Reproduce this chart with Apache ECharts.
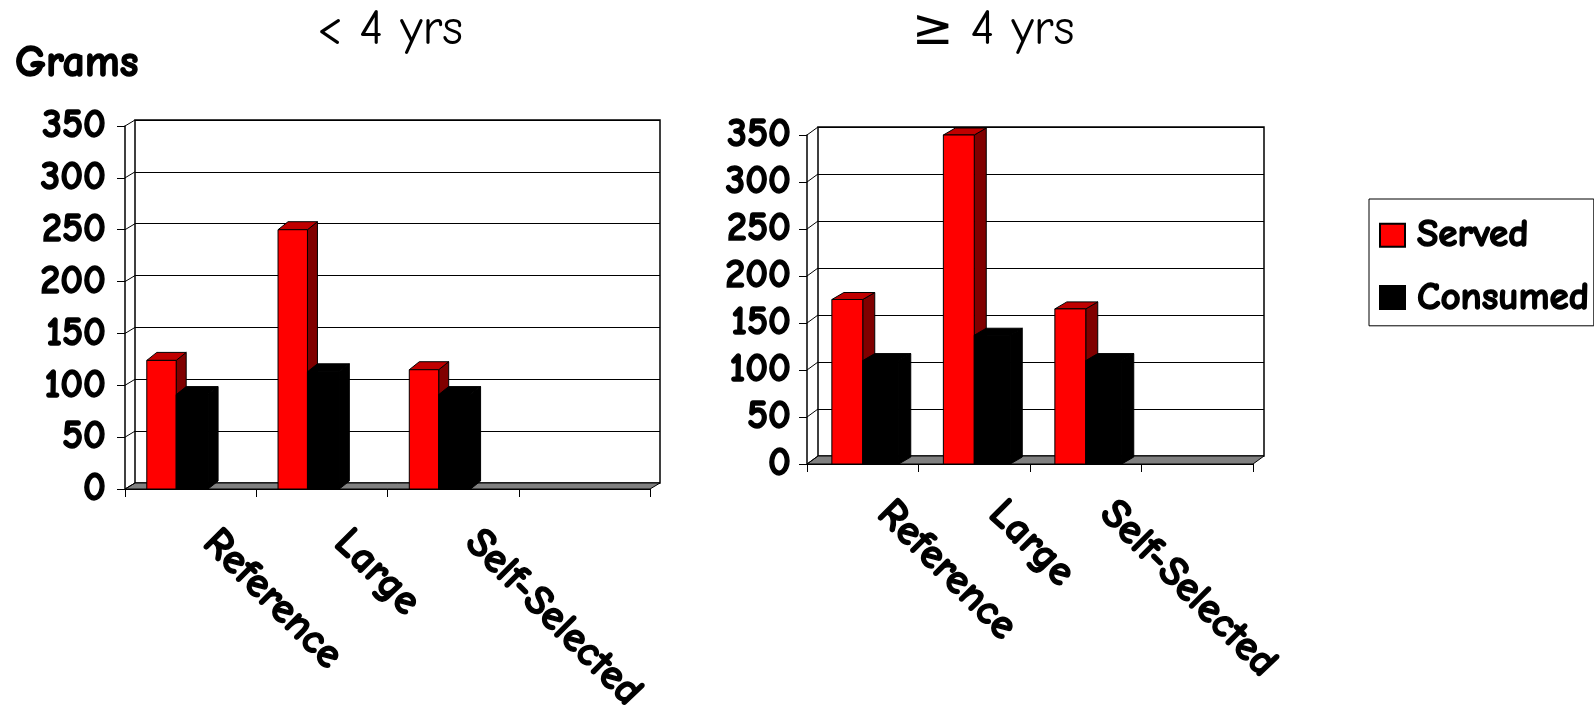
<!DOCTYPE html>
<html><head><meta charset="utf-8">
<script src="https://cdn.jsdelivr.net/npm/echarts@6/dist/echarts.min.js"></script>
<style>html,body{margin:0;padding:0;background:#fff}#c{width:1594px;height:728px}</style>
</head><body><div id="c"></div>
<script>
// ---- data ----
const categories = ['Reference', 'Large', 'Self-Selected', ''];
const yTicks = [0, 50, 100, 150, 200, 250, 300, 350];
const servedUnder4 = [124, 250, 115, null];
const consumedUnder4 = [91, 113, 91, null];
const servedOver4 = [175, 350, 165, null];
const consumedOver4 = [110, 137, 110, null];
const titles = ['< 4 yrs', '\u2265 4 yrs'];
const seriesNames = ['Served', 'Consumed'];

// ---- layout / style ----
const FONT = "'Comic Sans MS','Comic Neue','DejaVu Sans',sans-serif";
const BOLD = {fontFamily: FONT, fontWeight: 'bold', color: '#000', textBorderColor: '#000', textBorderWidth: 1.4};
const P = [
  {left:125, top:126, width:525, height:363, dx:10, dy:6, bdx:10, bdy:8,
   red:[-0.334,-0.11], black:[-0.11,0.133], lblPad:27, lblMargin:28, yMargin:19},
  {left:807, top:135, width:446, height:329, dx:11, dy:8, bdx:12, bdy:7,
   red:[-0.277,0], black:[0,0.323], lblPad:30, lblMargin:22, yMargin:16}
];
const RED = {front:'#ff0000', top:'#c00000', side:'#800000', stroke:'#000'};
const BLK = {front:'#000000', top:'#000000', side:'#000000', stroke:'#000'};

function barRender(cfg, frac, col) {
  return function (params, api) {
    const v = api.value(1);
    if (v == null || isNaN(v)) return;
    const c = api.value(0);
    const t = api.coord([c, v]);
    const b = api.coord([c, 0]);
    const cw = api.size([1, 0])[0];
    const xl = t[0] + frac[0] * cw, xr = t[0] + frac[1] * cw;
    const yt = t[1], yb = b[1], dx = cfg.bdx, dy = cfg.bdy;
    const st = (f) => ({fill: f, stroke: col.stroke, lineWidth: 1});
    return {type: 'group', children: [
      {type: 'polygon', shape: {points: [[xr, yb], [xr + dx, yb - dy], [xr + dx, yt - dy], [xr, yt]]}, style: st(col.side)},
      {type: 'polygon', shape: {points: [[xl, yt], [xr, yt], [xr + dx, yt - dy], [xl + dx, yt - dy]]}, style: st(col.top)},
      {type: 'rect', shape: {x: xl, y: yt, width: xr - xl, height: yb - yt}, style: st(col.front)}
    ]};
  };
}
function frameRender(cfg) {
  return function (params, api) {
    const cs = params.coordSys;
    const x0 = cs.x, x1 = cs.x + cs.width, y0 = cs.y + cs.height;
    const ch = [{type: 'polygon', shape: {points: [[x0, y0], [x1, y0], [x1 + cfg.dx, y0 - cfg.dy], [x0 + cfg.dx, y0 - cfg.dy]]},
      style: {fill: '#808080', stroke: '#000', lineWidth: 1}}];
    yTicks.forEach(v => {
      const y = api.coord([0, v])[1];
      ch.push({type: 'line', shape: {x1: x0, y1: y, x2: x0 + cfg.dx, y2: y - cfg.dy}, style: {stroke: '#000', lineWidth: 1}});
    });
    return {type: 'group', children: ch};
  };
}
const toData = arr => arr.map((v, i) => [i, v]).filter(d => d[1] != null);

const grids = [], xAxes = [], yAxes = [], series = [];
const served = [servedUnder4, servedOver4], consumed = [consumedUnder4, consumedOver4];
P.forEach((cfg, k) => {
  const gf = grids.length;
  grids.push({left: cfg.left, top: cfg.top, width: cfg.width, height: cfg.height, containLabel: false});
  grids.push({left: cfg.left + cfg.dx, top: cfg.top - cfg.dy, width: cfg.width, height: cfg.height,
    show: true, borderColor: '#000', borderWidth: 1.5, backgroundColor: 'transparent'});
  xAxes.push({gridIndex: gf, type: 'category', data: categories,
    axisLine: {show: true, lineStyle: {color: '#000', width: 1}},
    axisTick: {show: true, length: 8, interval: 0, lineStyle: {color: '#000'}},
    axisLabel: Object.assign({interval: 0, rotate: -45, margin: cfg.lblMargin, padding: [0, 0, 0, cfg.lblPad],
      fontSize: 42}, BOLD),
    splitLine: {show: false}});
  xAxes.push({gridIndex: gf + 1, type: 'category', data: categories, show: false});
  yAxes.push({gridIndex: gf, type: 'value', min: 0, max: 350, interval: 50,
    axisLine: {show: true, lineStyle: {color: '#000', width: 1.5}},
    axisTick: {show: true, length: 8, lineStyle: {color: '#000'}},
    axisLabel: Object.assign({margin: cfg.yMargin, fontSize: 40}, BOLD),
    splitLine: {show: false}});
  yAxes.push({gridIndex: gf + 1, type: 'value', min: 0, max: 350, interval: 50,
    axisLine: {show: false}, axisTick: {show: false}, axisLabel: {show: false},
    splitLine: {show: true, lineStyle: {color: '#000', width: 1.2}}});
  series.push({type: 'custom', name: 'frame' + k, xAxisIndex: gf, yAxisIndex: gf, z: 1,
    renderItem: frameRender(cfg), data: [[0, 0]], silent: true, legendHoverLink: false});
  series.push({type: 'custom', name: seriesNames[0], xAxisIndex: gf, yAxisIndex: gf, z: 3,
    itemStyle: {color: '#ff0000', borderColor: '#000', borderWidth: 1},
    encode: {x: 0, y: 1}, renderItem: barRender(cfg, cfg.red, RED), data: toData(served[k])});
  series.push({type: 'custom', name: seriesNames[1], xAxisIndex: gf, yAxisIndex: gf, z: 4,
    itemStyle: {color: '#000000', borderColor: '#000', borderWidth: 1},
    encode: {x: 0, y: 1}, renderItem: barRender(cfg, cfg.black, BLK), data: toData(consumed[k])});
});

const chart = echarts.init(document.getElementById('c'));
chart.setOption({
  animation: false,
  backgroundColor: '#fff',
  title: [
    {text: 'Grams', left: 10, top: 37, textStyle: Object.assign({fontSize: 44}, BOLD)},
    {text: titles[0], left: 312, top: 0, textStyle: {fontFamily: FONT, fontWeight: 'normal', fontSize: 50, color: '#000'}},
    {text: titles[1], left: 907, top: 0, textStyle: {fontFamily: FONT, fontWeight: 'normal', fontSize: 50, color: '#000'}}
  ],
  legend: {
    data: seriesNames, orient: 'vertical', left: 1369, top: 199,
    borderColor: '#000', borderWidth: 1, padding: [16, 4, 8, 10],
    itemWidth: 25, itemHeight: 23, itemGap: 22, icon: 'rect',
    textStyle: Object.assign({fontSize: 39, padding: [0, 0, 0, 7]}, BOLD)
  },
  grid: grids, xAxis: xAxes, yAxis: yAxes, series: series
});
</script></body></html>
